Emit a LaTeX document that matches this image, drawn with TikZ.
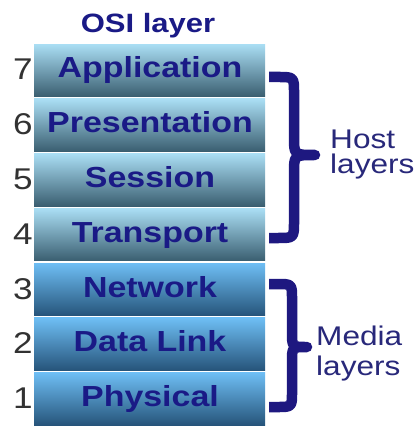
\documentclass[tikz,border=0pt]{standalone}
\usepackage{fontspec}
\setmainfont[FakeStretch=1.17]{Liberation Sans}
\definecolor{hostTop}{RGB}{170,222,244}
\definecolor{hostMid}{RGB}{146,202,228}
\definecolor{hostBot}{RGB}{58,94,112}
\definecolor{mediaTop}{RGB}{110,190,244}
\definecolor{mediaMid}{RGB}{88,164,222}
\definecolor{mediaBot}{RGB}{38,84,122}
\definecolor{navy}{RGB}{26,26,134}
\definecolor{labelnavy}{RGB}{40,40,122}
\definecolor{bracenavy}{RGB}{30,24,128}
\definecolor{numgray}{RGB}{50,50,50}
\tikzset{
  layer box/.style={draw=none, inner sep=0pt, minimum width=231pt, minimum height=52.5pt},
  host box/.style={layer box, top color=hostTop, middle color=hostMid, bottom color=hostBot},
  media box/.style={layer box, top color=mediaTop, middle color=mediaMid, bottom color=mediaBot},
  layertext/.style={inner sep=0pt, text=navy, font=\fontsize{29}{34}\selectfont\bfseries},
  numtext/.style={inner sep=0pt, text=numgray, font=\fontsize{30}{34}\selectfont},
  titletext/.style={inner sep=0pt, text=navy, font=\fontsize{26.5}{30}\selectfont\bfseries},
  labeltext/.style={inner sep=0pt, text=labelnavy, font=\fontsize{27}{32}\selectfont},
  brace line/.style={draw=bracenavy, line width=10.5pt, line cap=butt, line join=round}
}
\begin{document}
\begin{tikzpicture}[x=1pt,y=-1pt]
\useasboundingbox (0,0) rectangle (416,427);
\fill[white] (0,0) rectangle (416,427);

% title
\node[titletext, anchor=base] (title) at (148,33) {OSI layer};

% the seven layers, top to bottom
\foreach \k/\name/\sty [count=\i from 0] in
  {7/Application/host, 6/Presentation/host, 5/Session/host, 4/Transport/host,
   3/Network/media, 2/Data Link/media, 1/Physical/media} {
  \pgfmathsetmacro\top{44+54.75*\i}
  \node[\sty\space box, anchor=north west] (box\k) at (34,\top) {};
  \node[layertext, anchor=base] (txt\k) at (150,\top+34) {\name};
  \node[numtext, anchor=base] (num\k) at (23,\top+36) {\k};
}

% host layers brace
\draw[brace line] (269,77) -- (278,77) .. controls (294,77) .. (294,93)
  -- (294,137) .. controls (294,155) .. (315,155)
  .. controls (294,155) .. (294,173)
  -- (294,221) .. controls (294,238) .. (278,238) -- (269,238);
\node[labeltext, anchor=base west] (hostA) at (330,149) {Host};
\node[labeltext, anchor=base west] (hostB) at (330,174) {layers};

% media layers brace
\draw[brace line] (269,284) -- (277,284) .. controls (292,284) .. (292,299)
  -- (292,332) .. controls (292,347) .. (307,347)
  .. controls (292,347) .. (292,362)
  -- (292,392) .. controls (292,407) .. (277,407) -- (269,407);
\node[labeltext, anchor=base west] (mediaA) at (316,345) {Media};
\node[labeltext, anchor=base west] (mediaB) at (316,375) {layers};
\end{tikzpicture}
\end{document}
